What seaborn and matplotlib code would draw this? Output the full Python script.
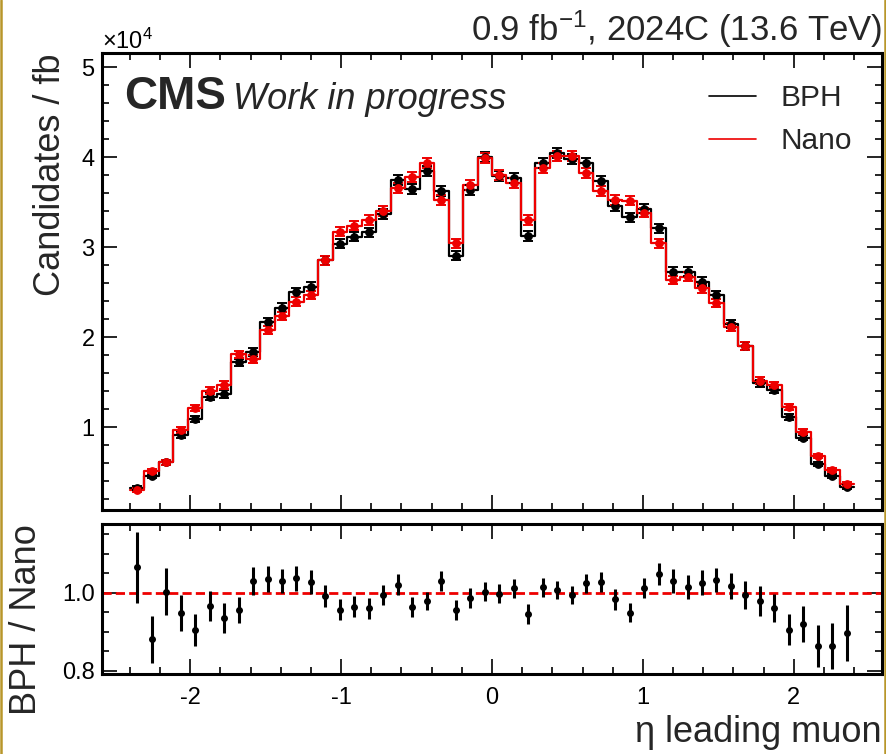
import numpy as np
import pandas as pd
import matplotlib
matplotlib.use("Agg")
import matplotlib.pyplot as plt
from matplotlib.ticker import MultipleLocator, ScalarFormatter, FormatStrFormatter
from matplotlib.lines import Line2D
import seaborn as sns

# ---------------- data ----------------
edges = np.linspace(-2.4, 2.4, 51)

bph = [3310, 4610, 6130, 9170, 10910, 13420, 13720, 17240, 18420, 21720,
       23330, 25020, 25640, 28610, 30390, 31200, 31690, 33720, 37500, 36470,
       38530, 36310, 29060, 36390, 40090, 37940, 37690, 31280, 39420, 40530,
       39800, 39360, 37420, 34610, 33360, 34310, 32130, 27310, 27310, 26200,
       24720, 21500, 19060, 14910, 14170, 11200, 8870, 5940, 4610, 3420]

nano = [3060, 5170, 6130, 9720, 12130, 14090, 14720, 18130, 17580, 20830,
        22390, 23980, 24720, 28610, 31760, 32420, 33060, 34060, 36600, 37870,
        39420, 35280, 30470, 36940, 39910, 38060, 37130, 33060, 38800, 40170,
        40170, 38310, 36310, 35280, 35200, 33870, 30470, 26390, 26760, 25460,
        23800, 21130, 19060, 15200, 14720, 12310, 9530, 6830, 5280, 3690]

err_top = [200, 250, 300, 350, 350, 400, 400, 420, 430, 450,
           460, 480, 480, 500, 500, 510, 510, 520, 540, 540,
           550, 540, 500, 540, 560, 550, 550, 520, 550, 560,
           560, 550, 540, 530, 520, 520, 510, 480, 480, 480,
           460, 450, 430, 380, 380, 340, 300, 250, 230, 200]

ratio = [1.065, 0.881, 1.003, 0.947, 0.904, 0.967, 0.936, 0.956, 1.030, 1.035,
         1.030, 1.037, 1.027, 0.992, 0.957, 0.964, 0.960, 0.994, 1.020, 0.964,
         0.979, 1.030, 0.956, 0.986, 1.003, 0.998, 1.011, 0.945, 1.014, 1.007,
         0.994, 1.024, 1.028, 0.983, 0.949, 1.012, 1.048, 1.030, 1.015, 1.026,
         1.033, 1.017, 0.994, 0.979, 0.962, 0.906, 0.921, 0.864, 0.864, 0.897]

ratio_err = [0.090, 0.060, 0.060, 0.046, 0.041, 0.038, 0.038, 0.034, 0.035, 0.034,
             0.031, 0.032, 0.031, 0.029, 0.027, 0.027, 0.026, 0.026, 0.027, 0.025,
             0.024, 0.026, 0.026, 0.026, 0.024, 0.024, 0.024, 0.025, 0.024, 0.024,
             0.024, 0.024, 0.026, 0.026, 0.025, 0.026, 0.028, 0.030, 0.030, 0.031,
             0.031, 0.033, 0.035, 0.038, 0.036, 0.040, 0.046, 0.053, 0.058, 0.072]

labels = ["BPH", "Nano"]
colors = ["black", "#ee0000"]

# ---------------- style ----------------
sns.set_theme(style="ticks")
plt.rcParams['font.family'] = ['Liberation Sans', 'DejaVu Sans']
plt.rcParams['mathtext.fontset'] = 'custom'
plt.rcParams['mathtext.rm'] = 'Liberation Sans'
plt.rcParams['mathtext.it'] = 'Liberation Sans:italic'
plt.rcParams['mathtext.bf'] = 'Liberation Sans:bold'
plt.rcParams['axes.unicode_minus'] = False

centers = 0.5 * (edges[:-1] + edges[1:])

fig = plt.figure(figsize=(8.86, 7.54), dpi=100)
W, H = 886.0, 754.0
ax = fig.add_axes([102 / W, (H - 510) / H, 780 / W, 457 / H])
rax = fig.add_axes([102 / W, (H - 674.3) / H, 780 / W, 150 / H])

# ---------------- top panel ----------------
for vals, c in zip([bph, nano], colors):
    df = pd.DataFrame({"eta": centers, "w": np.asarray(vals, dtype=float)})
    sns.histplot(data=df, x="eta", weights="w", bins=list(edges), element="step",
                 fill=False, color=c, linewidth=1.6, ax=ax)
for vals, c in zip([bph, nano], colors):
    ax.errorbar(centers, vals, yerr=err_top, fmt="o", color=c, ms=5.3,
                capsize=3.4, elinewidth=1.4, capthick=1.4, zorder=3)

ax.set_xlim(-2.585, 2.585)
ax.set_ylim(833, 51610)
fmt = ScalarFormatter(useMathText=True)
fmt.set_powerlimits((0, 0))
ax.yaxis.set_major_formatter(fmt)
ax.yaxis.set_major_locator(MultipleLocator(10000))
ax.yaxis.set_minor_locator(MultipleLocator(2000))
ax.xaxis.set_major_locator(MultipleLocator(1))
ax.xaxis.set_minor_locator(MultipleLocator(0.2))
ax.yaxis.get_offset_text().set_fontsize(17)
ax.set_xlabel("")
ax.set_ylabel("Candidates / fb", fontsize=26, loc="top")
ax.yaxis.set_label_coords(-0.044, 1.0)

ax.text(0.029, 0.878, "CMS", transform=ax.transAxes, fontsize=33,
        fontweight="bold", va="baseline", ha="left")
ax.text(0.168, 0.878, "Work in progress", transform=ax.transAxes, fontsize=26,
        fontstyle="italic", va="baseline", ha="left")
ax.text(1.0, 1.026, r"0.9 fb$^{-1}$, 2024C (13.6 TeV)", transform=ax.transAxes,
        fontsize=25, va="baseline", ha="right")

handles = [Line2D([], [], color=c, lw=1.2) for c in colors]
ax.legend(handles, labels, loc="upper right", bbox_to_anchor=(0.9965, 0.99),
          frameon=False, fontsize=21.5, handlelength=1.57, handletextpad=0.83,
          labelspacing=0.5)

# ---------------- ratio panel ----------------
rax.axhline(1.0, color="#ee0000", lw=2, linestyle=(0, (3.3, 1.5)), zorder=1)
rax.errorbar(centers, ratio, yerr=ratio_err, fmt="o", color="black", ms=4,
             elinewidth=2.2, zorder=3)
rax.set_xlim(-2.585, 2.585)
rax.set_ylim(0.7915, 1.175)
rax.yaxis.set_major_locator(MultipleLocator(0.2))
rax.yaxis.set_minor_locator(MultipleLocator(0.05))
rax.xaxis.set_major_locator(MultipleLocator(1))
rax.xaxis.set_minor_locator(MultipleLocator(0.2))
rax.yaxis.set_major_formatter(FormatStrFormatter("%.1f"))
rax.set_ylabel("BPH / Nano", fontsize=26, loc="top")
rax.yaxis.set_label_coords(-0.074, 1.0)
rax.set_xlabel("η leading muon", fontsize=26, loc="right")
rax.xaxis.set_label_coords(1.0, -0.27)

for a in (ax, rax):
    a.tick_params(which="both", direction="in", top=True, right=True,
                  labelsize=17, width=1.2, colors="black")
    a.tick_params(which="major", length=11)
    a.tick_params(which="minor", length=5)
    a.tick_params(axis="y", pad=5)
    for s in a.spines.values():
        s.set_linewidth(2.2)
        s.set_color("black")
ax.tick_params(labelbottom=False)
rax.tick_params(axis="x", pad=9)

# thin golden frame edges seen in the reference
for xf in (0.0012, 0.9985):
    fig.add_artist(Line2D([xf, xf], [0, 1], transform=fig.transFigure,
                          color="#b8962a", lw=1.8))

fig.savefig("out.png", dpi=100)
